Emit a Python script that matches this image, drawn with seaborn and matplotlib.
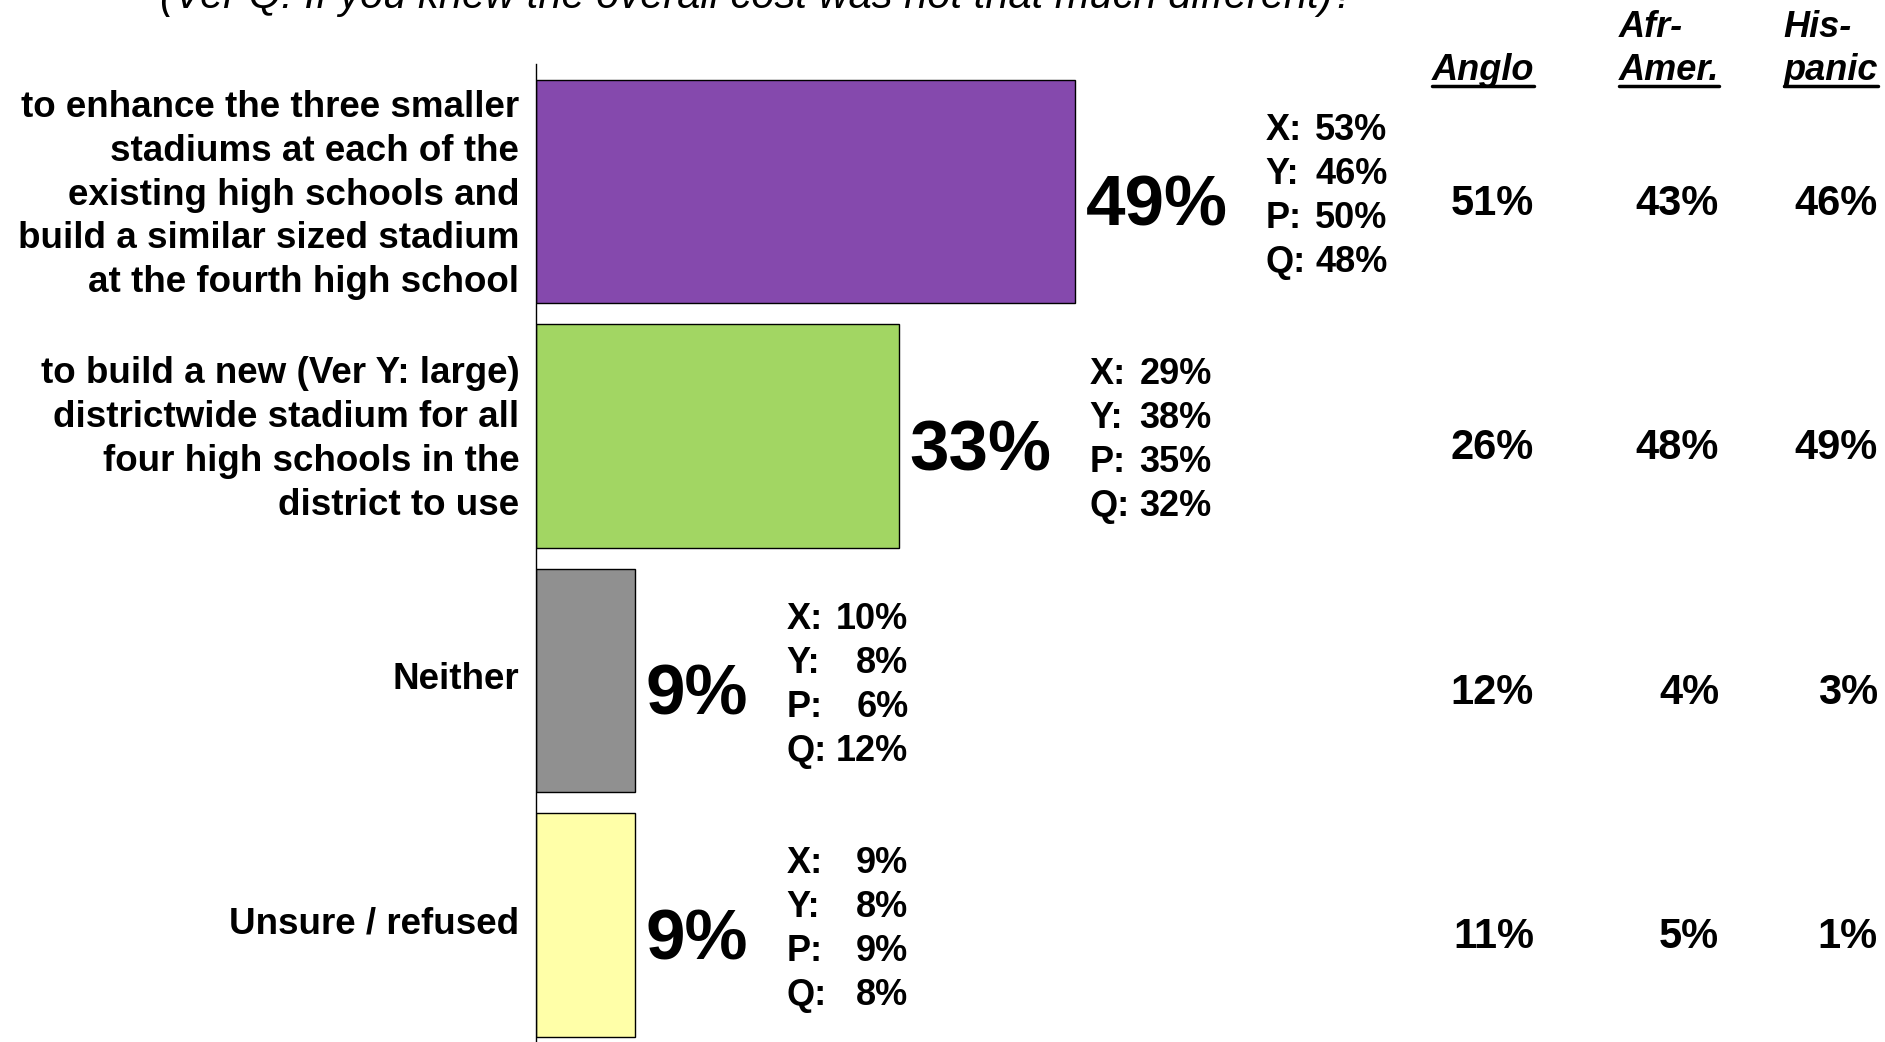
import matplotlib
matplotlib.use("Agg")
import matplotlib.pyplot as plt
import matplotlib.transforms as mtransforms
from matplotlib.lines import Line2D
import pandas as pd
import seaborn as sns

title = "(Ver Q: If you knew the overall cost was not that much different)?"
categories = [
    "to enhance the three smaller\nstadiums at each of the\nexisting high schools and\nbuild a similar sized stadium\nat the fourth high school",
    "to build a new (Ver Y: large)\ndistrictwide stadium for all\nfour high schools in the\ndistrict to use",
    "Neither",
    "Unsure / refused",
]
overall = [49, 33, 9, 9]
version_names = ["X:", "Y:", "P:", "Q:"]
ver_x = [53, 29, 10, 9]
ver_y = [46, 38, 8, 8]
ver_p = [50, 35, 6, 9]
ver_q = [48, 32, 12, 8]
group_top = ["", "Afr-", "His-"]
group_bottom = ["Anglo", "Amer.", "panic"]
anglo = [51, 26, 12, 11]
afr_amer = [43, 48, 4, 5]
hispanic = [46, 49, 3, 1]
colors = ["#8549AD", "#A2D663", "#909090", "#FFFFA8"]

df = pd.DataFrame({"category": categories, "overall": overall})

sns.set_theme(style="white")
plt.rcParams["font.family"] = ["Liberation Sans", "DejaVu Sans"]
plt.rcParams["text.color"] = "black"
plt.rcParams["ytick.color"] = "black"
plt.rcParams["ytick.labelcolor"] = "black"

W, H = 1885, 1042
fig = plt.figure(figsize=(W / 100, H / 100), dpi=100)
ax = fig.add_axes([536 / W, 0, 1 - 536 / W, 1 - 64 / H])

sns.barplot(data=df, x="overall", y="category", hue="category", palette=colors,
            saturation=1, width=0.915, edgecolor="black", linewidth=1.0,
            legend=False, ax=ax)
ax.set_xlim(0, (W - 536) / 10.99)
ax.set_ylim(3.478, -0.522)
ax.set(xlabel="", ylabel="", xticks=[])
ax.tick_params(axis="y", length=0, pad=12, labelsize=26.5)
lift = mtransforms.ScaledTranslation(0, 5 / 100, fig.dpi_scale_trans)
for lab in ax.get_yticklabels():
    lab.set_fontweight("bold")
    lab.set_multialignment("right")
    lab.set_linespacing(1.33)
    lab.set_transform(lab.get_transform() + lift)
sns.despine(ax=ax, left=False, bottom=True)
ax.spines["left"].set_color("black")
ax.spines["left"].set_linewidth(1.0)

fig.text(160 / W, 1 - 8 / H, title, fontsize=30, style="italic",
         ha="left", va="baseline")

ident = mtransforms.IdentityTransform()
big = []
for i, v in enumerate(overall):
    tr = mtransforms.offset_copy(ax.transData, fig=fig, x=11, y=-34, units="dots")
    big.append(ax.text(v, i, f"{v}%", transform=tr, ha="left", va="baseline",
                       fontsize=51, fontweight="bold"))

fig.canvas.draw()
renderer = fig.canvas.get_renderer()

versions = [ver_x, ver_y, ver_p, ver_q]
line_offsets = [-52, -8, 36, 80]
for i, t in enumerate(big):
    x0 = t.get_window_extent(renderer).x1 + 38
    yc = ax.transData.transform((0, i))[1]
    for name, vals, off in zip(version_names, versions, line_offsets):
        fig.text(x0, yc - off, name, transform=ident, ha="left", va="baseline",
                 fontsize=26, fontweight="bold")
        fig.text(x0 + 122, yc - off, f"{vals[i]}%", transform=ident, ha="right",
                 va="baseline", fontsize=26, fontweight="bold")

col_right = [1534, 1719, 1878]
for col, vals in zip(col_right, [anglo, afr_amer, hispanic]):
    for i, v in enumerate(vals):
        yc = ax.transData.transform((0, i))[1]
        fig.text(col, yc - 23, f"{v}%", transform=ident, ha="right",
                 va="baseline", fontsize=30, fontweight="bold")

for col, top, bottom in zip(col_right, group_top, group_bottom):
    tb = fig.text(col, H - 80, bottom, transform=ident, ha="right", va="baseline",
                  fontsize=26, fontweight="bold", style="italic")
    ext = tb.get_window_extent(renderer)
    fig.add_artist(Line2D([ext.x0, ext.x1], [H - 86, H - 86], transform=ident,
                          color="black", linewidth=2.5))
    if top:
        fig.text(ext.x0, H - 37, top, transform=ident, ha="left", va="baseline",
                 fontsize=26, fontweight="bold", style="italic")

fig.savefig("out.png", dpi=100)
